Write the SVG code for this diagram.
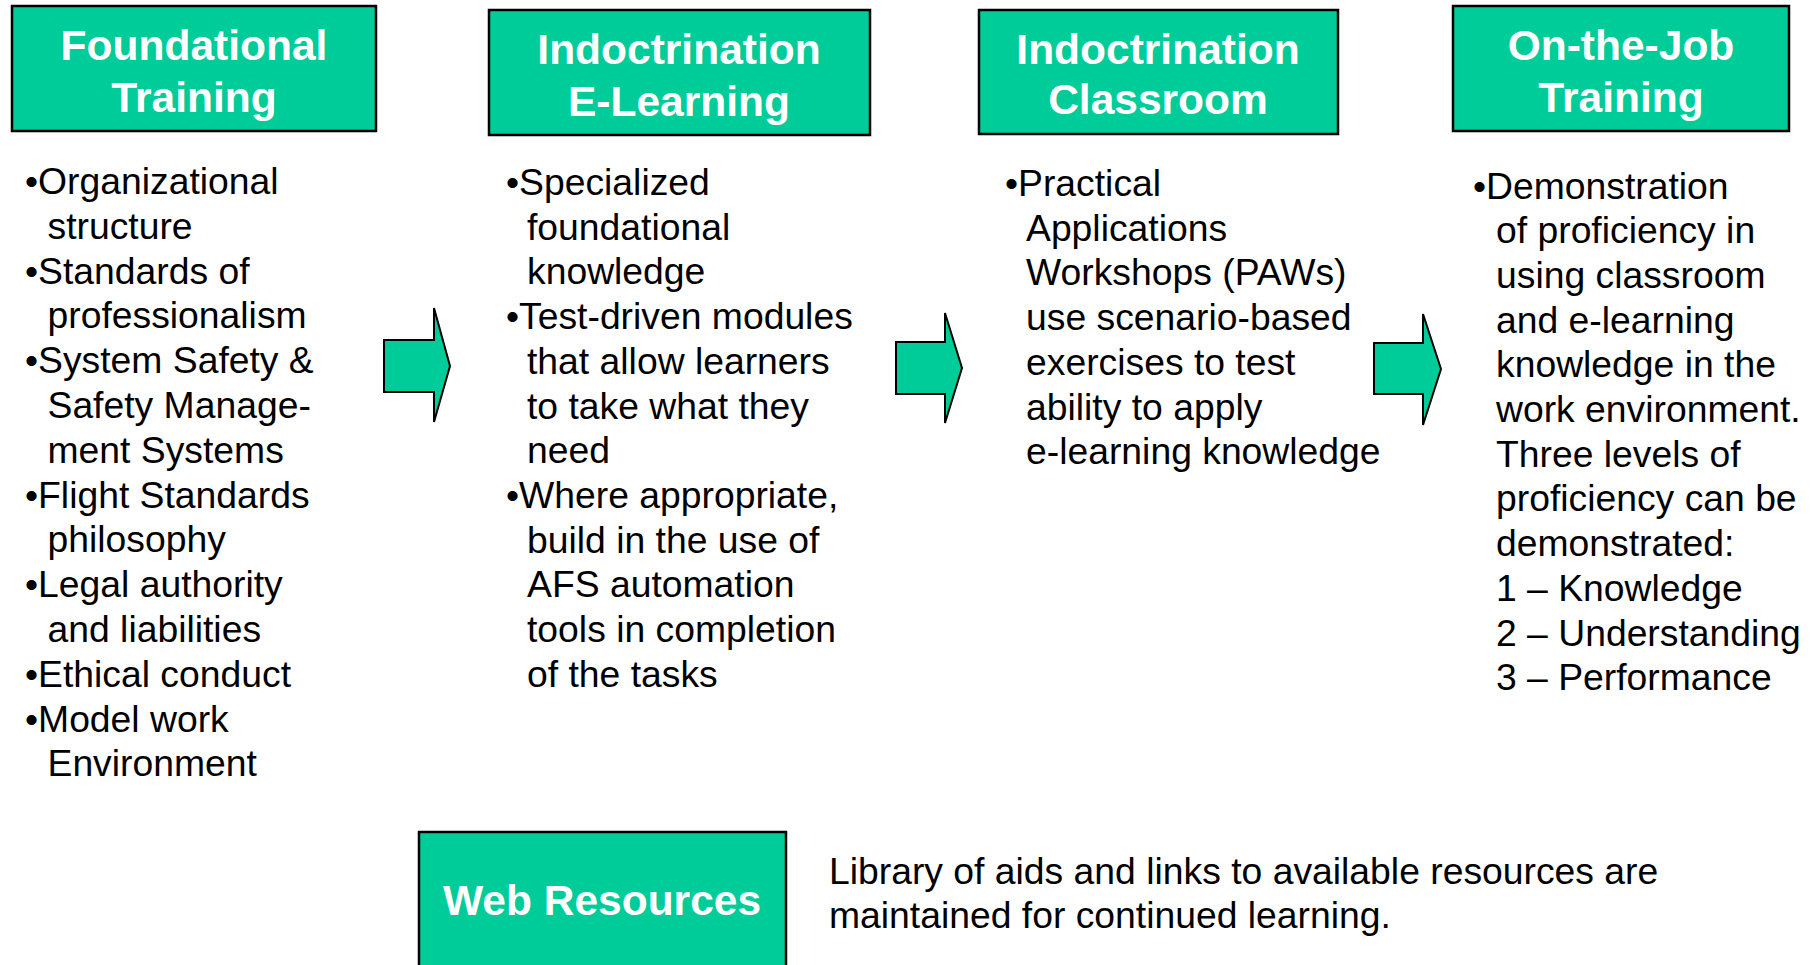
<svg xmlns="http://www.w3.org/2000/svg" width="1816" height="965" viewBox="0 0 1816 965">
<style>
.box{fill:#00CC99;stroke:#000;stroke-width:2.5}
.title{font-family:"Liberation Sans",Arial,sans-serif;font-weight:bold;font-size:42.5px;fill:#fff;text-anchor:middle}
.body{font-family:"Liberation Sans",Arial,sans-serif;font-size:37.3px;fill:#000}
.arrow{fill:#00CC99;stroke:#000;stroke-width:2;stroke-linejoin:miter}
</style>
<rect width="1816" height="965" fill="#fff"/>
<g id="foundational">
<rect class="box" x="12" y="6" width="364" height="125"/>
<text class="title"><tspan x="194" y="60">Foundational</tspan><tspan x="194" y="112">Training</tspan></text>
<text class="body">
<tspan x="25" y="194">•Organizational</tspan>
<tspan x="47.5" y="238.8">structure</tspan>
<tspan x="25" y="283.6">•Standards of</tspan>
<tspan x="47.5" y="328.4">professionalism</tspan>
<tspan x="25" y="373.2">•System Safety &amp;</tspan>
<tspan x="47.5" y="418">Safety Manage-</tspan>
<tspan x="47.5" y="462.8">ment Systems</tspan>
<tspan x="25" y="507.6">•Flight Standards</tspan>
<tspan x="47.5" y="552.4">philosophy</tspan>
<tspan x="25" y="597.2">•Legal authority</tspan>
<tspan x="47.5" y="642">and liabilities</tspan>
<tspan x="25" y="686.8">•Ethical conduct</tspan>
<tspan x="25" y="731.6">•Model work</tspan>
<tspan x="47.5" y="776.4">Environment</tspan>
</text>
</g>
<g id="elearning">
<rect class="box" x="489" y="10" width="381" height="125"/>
<text class="title"><tspan x="679" y="64">Indoctrination</tspan><tspan x="679" y="116">E-Learning</tspan></text>
<text class="body">
<tspan x="506" y="195">•Specialized</tspan>
<tspan x="527" y="239.7">foundational</tspan>
<tspan x="527" y="284.4">knowledge</tspan>
<tspan x="506" y="329.1">•Test-driven modules</tspan>
<tspan x="527" y="373.8">that allow learners</tspan>
<tspan x="527" y="418.5">to take what they</tspan>
<tspan x="527" y="463.2">need</tspan>
<tspan x="506" y="507.9">•Where appropriate,</tspan>
<tspan x="527" y="552.6">build in the use of</tspan>
<tspan x="527" y="597.3">AFS automation</tspan>
<tspan x="527" y="642">tools in completion</tspan>
<tspan x="527" y="686.7">of the tasks</tspan>
</text>
</g>
<g id="classroom">
<rect class="box" x="979" y="10" width="359" height="124"/>
<text class="title"><tspan x="1158" y="64">Indoctrination</tspan><tspan x="1158" y="114">Classroom</tspan></text>
<text class="body">
<tspan x="1005" y="196">•Practical</tspan>
<tspan x="1026" y="240.7">Applications</tspan>
<tspan x="1026" y="285.4">Workshops (PAWs)</tspan>
<tspan x="1026" y="330.1">use scenario-based</tspan>
<tspan x="1026" y="374.8">exercises to test</tspan>
<tspan x="1026" y="419.5">ability to apply</tspan>
<tspan x="1026" y="464.2">e-learning knowledge</tspan>
</text>
</g>
<g id="ojt">
<rect class="box" x="1453" y="6" width="336" height="125"/>
<text class="title"><tspan x="1621" y="60">On-the-Job</tspan><tspan x="1621" y="112">Training</tspan></text>
<text class="body">
<tspan x="1473" y="198.5">•Demonstration</tspan>
<tspan x="1496" y="243.2">of proficiency in</tspan>
<tspan x="1496" y="287.9">using classroom</tspan>
<tspan x="1496" y="332.6">and e-learning</tspan>
<tspan x="1496" y="377.3">knowledge in the</tspan>
<tspan x="1496" y="422">work environment.</tspan>
<tspan x="1496" y="466.7">Three levels of</tspan>
<tspan x="1496" y="511.4">proficiency can be</tspan>
<tspan x="1496" y="556.1">demonstrated:</tspan>
<tspan x="1496" y="600.8">1 – Knowledge</tspan>
<tspan x="1496" y="645.5">2 – Understanding</tspan>
<tspan x="1496" y="690.2">3 – Performance</tspan>
</text>
</g>
<g id="web">
<rect class="box" x="419" y="832" width="367" height="140"/>
<text class="title" x="602" y="915">Web Resources</text>
<text class="body"><tspan x="829" y="884">Library of aids and links to available resources are</tspan><tspan x="829" y="928">maintained for continued learning.</tspan></text>
</g>
<g id="connectors">
<polygon class="arrow" points="384,340 434,340 434,308 450,366 434,422 434,392 384,392"/>
<polygon class="arrow" points="896,342 945,342 945,313 962,368 945,423 945,394 896,394"/>
<polygon class="arrow" points="1374,343 1423,343 1423,314 1441,369 1423,425 1423,394 1374,394"/>
</g>
</svg>
